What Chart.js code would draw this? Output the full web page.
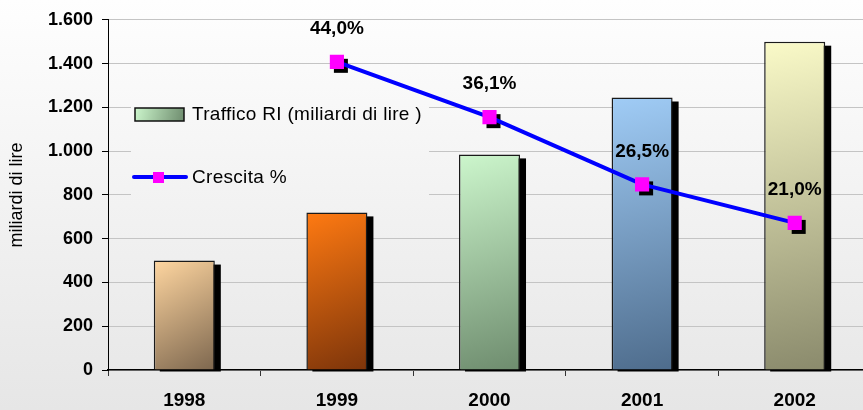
<!DOCTYPE html>
<html>
<head>
<meta charset="utf-8">
<script src="https://cdn.jsdelivr.net/npm/chart.js@4"></script>
<style>
  html, body { margin: 0; padding: 0; overflow: hidden; }
  body { width: 863px; height: 410px; background: linear-gradient(#fefefe, #e6e6e6); }
  #wrap { position: relative; width: 881px; height: 410px; }
</style>
</head>
<body>
<div id="wrap"><canvas id="grafico"></canvas></div>
<script>
// dati
const anni = ["1998", "1999", "2000", "2001", "2002"];
const traffico = [500, 720, 985, 1245, 1500];
const crescita = [null, 44.0, 36.1, 26.5, 21.0];
const etichettaTraffico = "Traffico RI (miliardi di lire )";
const etichettaCrescita = "Crescita %";
const titoloAsseY = "miliardi di lire";

// colori delle barre (chiaro in alto a sinistra, scuro in basso a destra)
const coloriChiari = ["#ffd6a0", "#ff7a12", "#ccf6cc", "#a0ccf6", "#fafac8"];
const coloriScuri = ["#7c664e", "#7c340a", "#6e8c6e", "#4e6c8c", "#8a8a6c"];

const FONT = '"Liberation Sans", Arial, sans-serif';

function formatoMigliaia(v) {
  return String(v).replace(/\B(?=(\d{3})+(?!\d))/g, ".");
}

function sfumaturaBarra(c) {
  const chart = c.chart;
  const i = c.dataIndex;
  if (!chart.chartArea || !chart.scales.x) return coloriChiari[i];
  const x = chart.scales.x.getPixelForValue(i);
  const top = chart.scales.y.getPixelForValue(traffico[i]);
  const base = chart.scales.y.getPixelForValue(0);
  const g = chart.ctx.createLinearGradient(x - 30, top, x + 32, base);
  g.addColorStop(0, coloriChiari[i]);
  g.addColorStop(1, coloriScuri[i]);
  return g;
}

// ombre nere sotto barre e marcatori
const ombre = {
  id: "ombre",
  beforeDatasetDraw(chart, args) {
    const ctx = chart.ctx;
    ctx.save();
    ctx.fillStyle = "#000";
    if (args.index === 0) {
      args.meta.data.forEach(b => {
        const p = b.getProps(["x", "y", "base", "width"], true);
        ctx.fillRect(p.x - p.width / 2 + 6, p.y + 4, p.width, p.base - p.y - 2);
      });
    } else {
      args.meta.data.forEach(pt => {
        if (pt.skip) return;
        ctx.fillRect(pt.x - 7 + 4, pt.y - 7 + 4, 14, 14);
      });
    }
    ctx.restore();
  }
};

// legenda dentro l'area del grafico
const legenda = {
  id: "legenda",
  beforeDatasetsDraw(chart) {
    const ctx = chart.ctx;
    ctx.save();
    const sf = ctx.createLinearGradient(0, 0, 0, chart.height);
    sf.addColorStop(0, "#fefefe");
    sf.addColorStop(1, "#e6e6e6");
    ctx.fillStyle = sf;
    ctx.fillRect(131, 92, 298, 122);

    const g = ctx.createLinearGradient(135, 108, 184, 121);
    g.addColorStop(0, coloriChiari[2]);
    g.addColorStop(1, coloriScuri[2]);
    ctx.fillStyle = g;
    ctx.fillRect(135, 108, 49, 13);
    ctx.strokeStyle = "#111";
    ctx.lineWidth = 1.5;
    ctx.strokeRect(135, 108, 49, 13);

    ctx.font = "19px " + FONT;
    ctx.letterSpacing = "0.3px";
    ctx.fillStyle = "#000";
    ctx.textAlign = "left";
    ctx.textBaseline = "middle";
    ctx.fillText(chart.data.datasets[0].label, 192, 115);

    ctx.strokeStyle = "#0000ff";
    ctx.lineWidth = 4;
    ctx.lineCap = "round";
    ctx.beginPath();
    ctx.moveTo(134, 177);
    ctx.lineTo(186, 177);
    ctx.stroke();
    ctx.fillStyle = "#ff00ff";
    ctx.fillRect(153, 172, 11, 11);

    ctx.fillStyle = "#000";
    ctx.fillText(chart.data.datasets[1].label, 192, 178);
    ctx.restore();
  }
};

// etichette percentuali sopra i punti
const etichette = {
  id: "etichette",
  afterDatasetsDraw(chart) {
    const ctx = chart.ctx;
    const meta = chart.getDatasetMeta(1);
    ctx.save();
    ctx.font = "bold 19px " + FONT;
    ctx.fillStyle = "#000";
    ctx.textAlign = "center";
    ctx.textBaseline = "middle";
    meta.data.forEach((pt, i) => {
      const v = crescita[i];
      if (v === null) return;
      ctx.fillText(v.toFixed(1).replace(".", ",") + "%", pt.x, pt.y - 33);
    });
    ctx.restore();
  }
};

new Chart(document.getElementById("grafico"), {
  data: {
    labels: anni,
    datasets: [
      {
        type: "bar",
        label: etichettaTraffico,
        data: traffico,
        backgroundColor: sfumaturaBarra,
        borderColor: "#1a1a1a",
        borderWidth: 1.5,
        barPercentage: 0.4,
        categoryPercentage: 1,
        yAxisID: "y",
        order: 1
      },
      {
        type: "line",
        label: etichettaCrescita,
        data: crescita,
        borderColor: "#0000ff",
        borderWidth: 4,
        pointStyle: "rect",
        pointRadius: 10,
        pointBorderWidth: 0,
        pointBackgroundColor: "#ff00ff",
        pointBorderColor: "#ff00ff",
        yAxisID: "y1",
        order: 0
      }
    ]
  },
  options: {
    responsive: true,
    maintainAspectRatio: false,
    animation: false,
    layout: { padding: { top: 19, right: 0, left: 0, bottom: 0 } },
    plugins: {
      legend: { display: false },
      tooltip: { enabled: false }
    },
    scales: {
      x: {
        offset: true,
        grid: {
          offset: true,
          drawOnChartArea: false,
          drawTicks: true,
          tickLength: 6,
          color: "#333"
        },
        border: { color: "#000", width: 1.5 },
        ticks: {
          color: "#000",
          padding: 13,
          font: { family: FONT, size: 19, weight: "bold" }
        },
        afterFit(scale) { scale.height = 40; }
      },
      y: {
        min: 0,
        max: 1600,
        ticks: {
          stepSize: 200,
          color: "#000",
          padding: 9,
          font: { family: FONT, size: 18, weight: "bold" },
          callback: v => formatoMigliaia(v)
        },
        grid: {
          color: "#c4c4c4",
          tickColor: "#000",
          tickLength: 6,
          lineWidth: 1
        },
        border: { color: "#000", width: 1 },
        title: {
          display: true,
          text: titoloAsseY,
          color: "#000",
          padding: { top: 6, bottom: 0 },
          font: { family: FONT, size: 18 }
        },
        afterFit(scale) { scale.width = 108; }
      },
      y1: {
        display: false,
        min: 0,
        max: 50
      }
    }
  },
  plugins: [ombre, legenda, etichette]
});
</script>
</body>
</html>
